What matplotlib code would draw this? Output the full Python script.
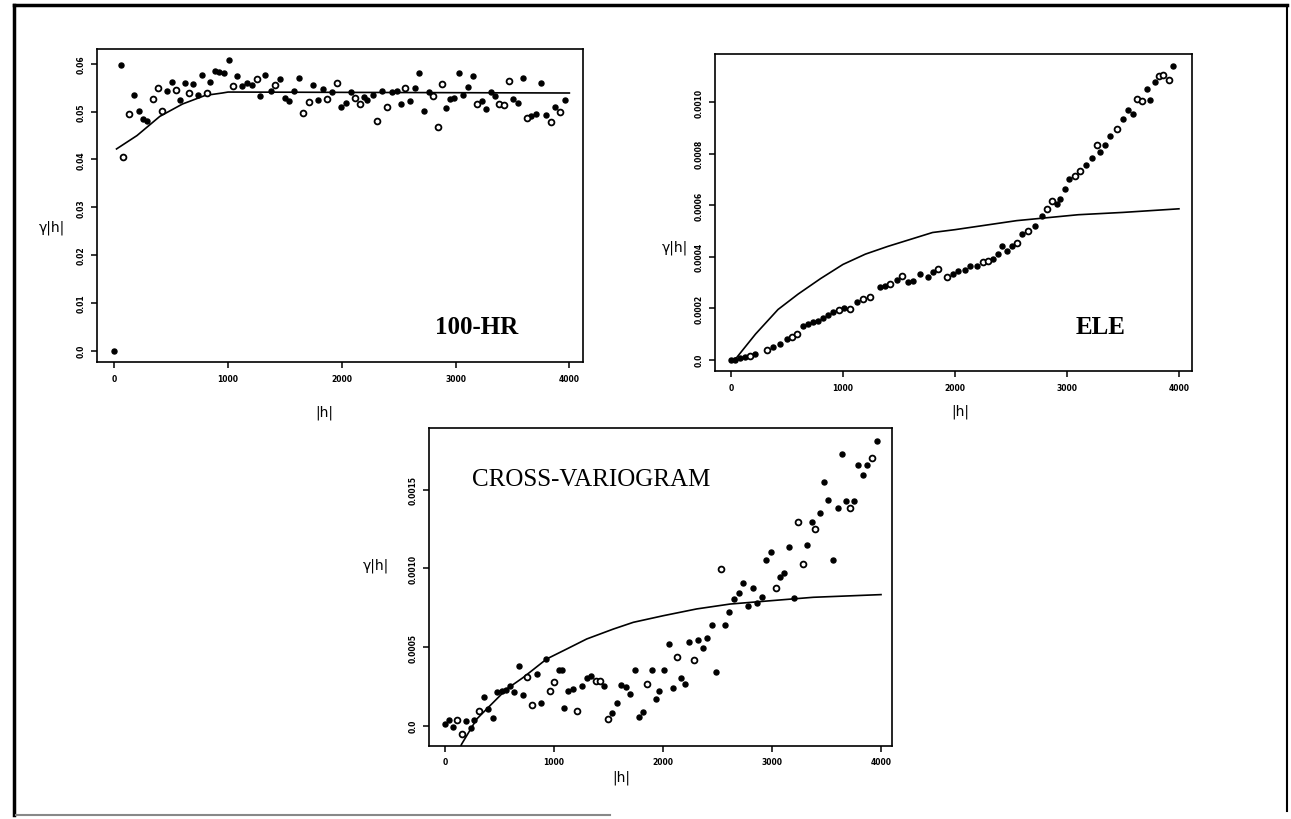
import matplotlib
matplotlib.use("Agg")
import matplotlib.pyplot as plt
from matplotlib.lines import Line2D

plt.rcParams['font.family'] = ['DejaVu Sans']

# ---------------- 100-HR ----------------
hr_fill_x = [0, 56, 176, 214, 255, 284, 460, 507, 577, 621, 694, 738, 771, 841, 885, 923, 964,
             1008, 1081, 1125, 1169, 1207, 1283, 1327, 1374, 1456, 1500, 1535, 1582, 1626, 1749,
             1790, 1834, 1916, 1992, 2036, 2078, 2192, 2224, 2271, 2356, 2438, 2482, 2520, 2599,
             2643, 2681, 2722, 2763, 2915, 2950, 2989, 3033, 3068, 3106, 3150, 3229, 3267, 3308,
             3349, 3507, 3545, 3589, 3659, 3703, 3750, 3794, 3876, 3958]
hr_fill_y = [0.0, 0.0598, 0.0535, 0.0501, 0.0484, 0.0480, 0.0543, 0.0563, 0.0525, 0.0559, 0.0557,
             0.0534, 0.0577, 0.0562, 0.0586, 0.0583, 0.0581, 0.0607, 0.0574, 0.0553, 0.0560, 0.0556,
             0.0532, 0.0577, 0.0544, 0.0569, 0.0528, 0.0523, 0.0544, 0.0571, 0.0555, 0.0525, 0.0548,
             0.0541, 0.0509, 0.0518, 0.0541, 0.0530, 0.0525, 0.0535, 0.0544, 0.0541, 0.0544, 0.0516,
             0.0523, 0.0549, 0.0581, 0.0502, 0.0541, 0.0507, 0.0527, 0.0528, 0.0580, 0.0535, 0.0551,
             0.0574, 0.0523, 0.0506, 0.0542, 0.0532, 0.0527, 0.0518, 0.0571, 0.0490, 0.0495, 0.0560,
             0.0492, 0.0509, 0.0525]
hr_open_x = [79, 129, 337, 381, 419, 539, 653, 812, 1046, 1251, 1412, 1661, 1708, 1869, 1957,
             2115, 2157, 2309, 2400, 2555, 2798, 2842, 2877, 3185, 3384, 3425, 3472, 3624, 3835, 3917]
hr_open_y = [0.0405, 0.0495, 0.0526, 0.0550, 0.0502, 0.0546, 0.0539, 0.0539, 0.0553, 0.0569, 0.0556,
             0.0497, 0.0520, 0.0526, 0.0559, 0.0528, 0.0516, 0.0481, 0.0509, 0.0549, 0.0532, 0.0467,
             0.0558, 0.0517, 0.0515, 0.0513, 0.0564, 0.0486, 0.0479, 0.0500]
hr_model_x = [20, 200, 400, 600, 800, 950, 1000, 4000]
hr_model_y = [0.0422, 0.0450, 0.0490, 0.0516, 0.0534, 0.0539, 0.0541, 0.0539]

# ---------------- ELE ----------------
ele_fill_x = [0, 36, 80, 125, 214, 378, 437, 497, 646, 690, 735, 780, 824, 869, 914, 1009, 1122,
              1330, 1375, 1479, 1583, 1628, 1687, 1762, 1806, 1985, 2030, 2089, 2134, 2193, 2342,
              2387, 2416, 2461, 2506, 2595, 2714, 2774, 2908, 2937, 2982, 3021, 3169, 3220, 3294,
              3339, 3384, 3497, 3547, 3586, 3711, 3741, 3785, 3949]
ele_fill_y = [0.0, 0.0, 0.000005, 0.000009, 0.000022, 0.000048, 0.000061, 0.00008, 0.00013,
              0.000139, 0.000145, 0.000152, 0.000161, 0.000174, 0.000184, 0.000202, 0.000223,
              0.000281, 0.000288, 0.000311, 0.0003, 0.000307, 0.000333, 0.00032, 0.000339,
              0.000333, 0.000346, 0.00035, 0.000365, 0.000365, 0.000391, 0.000411, 0.000443,
              0.000424, 0.000443, 0.000488, 0.000521, 0.00056, 0.000605, 0.000624, 0.000661,
              0.000702, 0.000756, 0.000782, 0.000806, 0.000834, 0.00087, 0.000935, 0.000968,
              0.000955, 0.001052, 0.00101, 0.00108, 0.001142]
ele_open_x = [170, 318, 542, 586, 967, 1062, 1181, 1241, 1420, 1524, 1851, 1925, 2253, 2297, 2550,
              2655, 2818, 2863, 3071, 3116, 3265, 3443, 3628, 3666, 3821, 3860, 3910]
ele_open_y = [0.000016, 0.000039, 0.000089, 0.000098, 0.000194, 0.000197, 0.000236, 0.000242,
              0.000294, 0.000324, 0.000352, 0.00032, 0.000378, 0.000385, 0.000453, 0.000501,
              0.000585, 0.000615, 0.000715, 0.000731, 0.000834, 0.000894, 0.001013, 0.001006,
              0.001101, 0.001104, 0.001088]
ele_model_x = [0, 50, 220, 420, 600, 800, 1000, 1200, 1400, 1600, 1800, 2000, 2550, 3100, 3500, 4000]
ele_model_y = [0.0, 0.000008, 0.0001, 0.000195, 0.000255, 0.000315, 0.00037, 0.00041, 0.00044,
               0.000467, 0.000494, 0.000505, 0.00054, 0.000563, 0.000572, 0.000586]

# ---------------- CROSS-VARIOGRAM ----------------
cr_fill_x = [0, 37, 70, 190, 239, 269, 355, 398, 437, 474, 520, 560, 596, 636, 676, 719, 841, 884,
             924, 1046, 1073, 1092, 1131, 1177, 1257, 1300, 1336, 1462, 1535, 1575, 1618, 1657,
             1697, 1740, 1780, 1820, 1896, 1936, 1966, 2009, 2052, 2089, 2165, 2202, 2241, 2324,
             2364, 2407, 2446, 2489, 2572, 2608, 2654, 2697, 2737, 2777, 2823, 2859, 2905, 2945,
             2991, 3073, 3113, 3159, 3199, 3318, 3364, 3440, 3480, 3517, 3557, 3602, 3639, 3679,
             3752, 3792, 3832, 3874, 3960]
cr_fill_y = [0.0000106, 0.000036, -0.0000106, 0.000032, -0.000017, 0.000036, 0.000184, 0.000106,
             0.000047, 0.000212, 0.000222, 0.000227, 0.000254, 0.000216, 0.000381, 0.000195,
             0.000328, 0.000142, 0.000424, 0.000356, 0.000356, 0.00011, 0.000222, 0.000233,
             0.000254, 0.000301, 0.000318, 0.000254, 0.000078, 0.000144, 0.000261, 0.000244,
             0.000201, 0.000356, 0.000053, 0.000085, 0.000356, 0.000169, 0.000222, 0.000356,
             0.000519, 0.000237, 0.000303, 0.000263, 0.00053, 0.000542, 0.000492, 0.000559,
             0.000642, 0.000343, 0.00064, 0.00072, 0.000805, 0.000845, 0.000907, 0.000763,
             0.000877, 0.000778, 0.00082, 0.001053, 0.001102, 0.000943, 0.000968, 0.001138,
             0.000811, 0.001148, 0.001297, 0.00135, 0.001551, 0.001434, 0.001055, 0.001381,
             0.001727, 0.00143, 0.001426, 0.001659, 0.001593, 0.001659, 0.001807]
cr_open_x = [113, 153, 309, 755, 801, 963, 1003, 1211, 1385, 1422, 1495, 1850, 2125, 2281, 2529,
             3037, 3241, 3281, 3397, 3719, 3917]
cr_open_y = [0.000036, -0.000053, 0.000095, 0.000311, 0.000133, 0.000222, 0.00028, 0.000093,
             0.000282, 0.000282, 0.000042, 0.000265, 0.000439, 0.000417, 0.000996, 0.000875,
             0.001292, 0.001028, 0.00125, 0.001381, 0.001699]
cr_model_x = [120, 153, 291, 413, 566, 719, 933, 1116, 1300, 1544, 1728, 2003, 2309, 2615, 3073,
              3379, 4000]
cr_model_y = [-0.00017, -0.000117, 0.000042, 0.000127, 0.000233, 0.000307, 0.000424, 0.000487,
              0.000551, 0.000614, 0.000657, 0.000699, 0.000742, 0.000773, 0.000799, 0.000816,
              0.000833]

x_ticks = [0, 1000, 2000, 3000, 4000]

panels = [
    dict(rect=[0.0751, 0.5573, 0.3765, 0.3817], xlim=(-152, 4120), ylim=(-0.00237, 0.0631),
         yticks=[0, 0.01, 0.02, 0.03, 0.04, 0.05, 0.06],
         ylabels=['0.0', '0.01', '0.02', '0.03', '0.04', '0.05', '0.06'],
         fill=(hr_fill_x, hr_fill_y), open=(hr_open_x, hr_open_y), model=(hr_model_x, hr_model_y),
         name='100-HR', name_xy=(476.7, 327), name_kw=dict(fontweight='bold'),
         ylab_xy=(65, 228), xlab_xy=(324, 413)),
    dict(rect=[0.5538, 0.5463, 0.3692, 0.3866], xlim=(-143, 4113), ylim=(-0.0000439, 0.001187),
         yticks=[0, 0.0002, 0.0004, 0.0006, 0.0008, 0.0010],
         ylabels=['0.0', '0.0002', '0.0004', '0.0006', '0.0008', '0.0010'],
         fill=(ele_fill_x, ele_fill_y), open=(ele_open_x, ele_open_y), model=(ele_model_x, ele_model_y),
         name='ELE', name_xy=(1101, 328), name_kw=dict(fontweight='bold'),
         ylab_xy=(688, 248), xlab_xy=(960, 412)),
    dict(rect=[0.3325, 0.0894, 0.3582, 0.3871], xlim=(-144, 4098), ylim=(-0.000127, 0.00189),
         yticks=[0, 0.0005, 0.0010, 0.0015],
         ylabels=['0.0', '0.0005', '0.0010', '0.0015'],
         fill=(cr_fill_x, cr_fill_y), open=(cr_open_x, cr_open_y), model=(cr_model_x, cr_model_y),
         name='CROSS-VARIOGRAM', name_xy=(591, 480), name_kw=dict(fontweight='normal'),
         ylab_xy=(389, 566), xlab_xy=(621, 778)),
]

W, H = 1291, 820
fig = plt.figure(figsize=(W / 100, H / 100), dpi=100)
fig.patch.set_facecolor('white')

for p in panels:
    ax = fig.add_axes(p['rect'])
    ax.plot(p['model'][0], p['model'][1], color='black', lw=1.2, zorder=2)
    ax.plot(p['fill'][0], p['fill'][1], 'o', ms=3.6, mfc='black', mec='black', zorder=3)
    ax.plot(p['open'][0], p['open'][1], 'o', ms=4.2, mfc='white', mec='black', mew=1.3, zorder=3)
    ax.set_xlim(*p['xlim'])
    ax.set_ylim(*p['ylim'])
    ax.set_xticks(x_ticks)
    ax.set_xticklabels([str(t) for t in x_ticks], fontsize=5.5, fontweight='bold')
    ax.set_yticks(p['yticks'])
    ax.set_yticklabels(p['ylabels'], fontsize=5.5, fontweight='bold', rotation=90, va='center')
    ax.tick_params(direction='out', length=4.5, width=1.1, pad=4)
    for s in ax.spines.values():
        s.set_linewidth(1.2)
    fig.text(p['name_xy'][0] / W, 1 - p['name_xy'][1] / H, p['name'], ha='center', va='center',
             fontsize=18, family='Liberation Serif', **p['name_kw'])
    fig.text(p['ylab_xy'][0] / W, 1 - p['ylab_xy'][1] / H, 'γ|h|', ha='right', va='center',
             fontsize=10)
    fig.text(p['xlab_xy'][0] / W, 1 - p['xlab_xy'][1] / H, '|h|', ha='center', va='center',
             fontsize=10)

# page border
fig.add_artist(Line2D([14 / W, 14 / W], [1 - 6 / H, 1 - 816 / H], color='black', lw=2.5))
fig.add_artist(Line2D([14 / W, 1287 / W], [1 - 6 / H, 1 - 6 / H], color='black', lw=2.5))
fig.add_artist(Line2D([1287 / W, 1287 / W], [1 - 6 / H, 1 - 812 / H], color='black', lw=1.5))
fig.add_artist(Line2D([16 / W, 610 / W], [1 - 816 / H, 1 - 816 / H], color='#888888', lw=1.5))

fig.savefig('out.png', dpi=100)
